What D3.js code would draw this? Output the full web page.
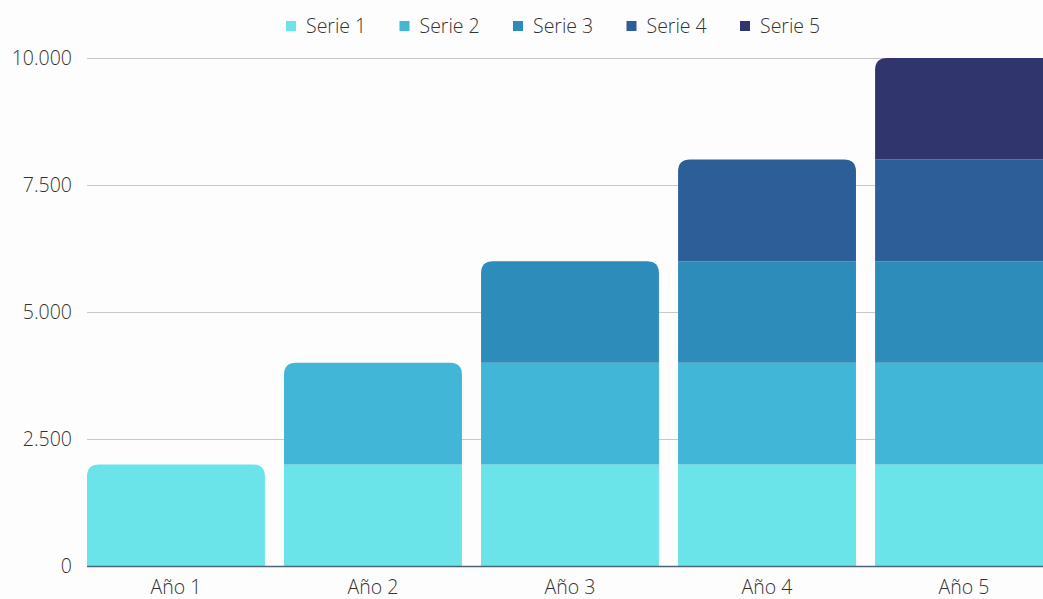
<!DOCTYPE html>
<html>
<head>
<meta charset="utf-8">
<script src="https://cdn.jsdelivr.net/npm/d3@7"></script>
<style>
  body { margin: 0; background: #fdfdfd; }
  svg { display: block; font-family: "Open Sans", sans-serif; }
</style>
</head>
<body>
<div id="chart"></div>
<script>
// data
const categories = ["Año 1", "Año 2", "Año 3", "Año 4", "Año 5"];
const seriesNames = ["Serie 1", "Serie 2", "Serie 3", "Serie 4", "Serie 5"];
const serie1 = [2000, 2000, 2000, 2000, 2000];
const serie2 = [0, 2000, 2000, 2000, 2000];
const serie3 = [0, 0, 2000, 2000, 2000];
const serie4 = [0, 0, 0, 2000, 2000];
const serie5 = [0, 0, 0, 0, 2000];
const yTicks = [0, 2500, 5000, 7500, 10000];
const colors = ["#6ae4e9", "#42b6d6", "#2d8cba", "#2e5e98", "#31356d"];

const width = 1043, height = 599;
const margin = {top: 58, left: 87, bottom: 33};

const allSeries = [serie1, serie2, serie3, serie4, serie5];
const rows = categories.map((c, i) => {
    let r = {cat: c};
    seriesNames.forEach((s, j) => r[s] = allSeries[j][i]);
    return r;
});

const stack = d3.stack().keys(seriesNames);
const stacked = stack(rows);

const svg = d3.select("#chart").append("svg")
    .attr("width", width)
    .attr("height", height);

// scales
const x = d3.scaleBand()
    .domain(categories)
    .range([margin.left, 1053])
    .paddingInner(0.097)
    .paddingOuter(0);

const y = d3.scaleLinear()
    .domain([0, 10000])
    .range([height - margin.bottom, margin.top]);

const fmt = d3.formatLocale({decimal: ",", thousands: ".", grouping: [3], currency: ["", "€"]}).format(",");

// gridlines
svg.append("g").selectAll("line")
    .data(yTicks.filter(d => d > 0))
    .join("line")
    .attr("x1", margin.left)
    .attr("x2", width)
    .attr("y1", d => y(d) + 0.5)
    .attr("y2", d => y(d) + 0.5)
    .attr("stroke", "#c8c8c8")
    .attr("stroke-width", 1);

// y labels
svg.append("g").selectAll("text")
    .data(yTicks)
    .join("text")
    .attr("x", 72)
    .attr("y", d => y(d))
    .attr("dy", "0.35em")
    .attr("text-anchor", "end")
    .attr("font-size", 19.5)
    .attr("font-weight", 300)
    .attr("fill", "#333")
    .text(d => fmt(d));

// top segment of each bar gets rounded corners
const topIndex = categories.map((c, i) => {
    let top = 0;
    allSeries.forEach((s, j) => { if (s[i] > 0) top = j; });
    return top;
});

function barPath(x0, y0, w, h, r) {
    return `M${x0},${y0 + h}V${y0 + r}Q${x0},${y0} ${x0 + r},${y0}H${x0 + w - r}Q${x0 + w},${y0} ${x0 + w},${y0 + r}V${y0 + h}Z`;
}

const layers = svg.append("g").selectAll("g")
    .data(stacked)
    .join("g")
    .attr("fill", (d, i) => colors[i]);

layers.selectAll("path")
    .data((d, j) => d.map((v, i) => ({v, i, j})).filter(e => e.v[1] > e.v[0]))
    .join("path")
    .attr("d", e => {
        const x0 = x(categories[e.i]);
        const y0 = y(e.v[1]);
        const h = y(e.v[0]) - y(e.v[1]);
        const r = topIndex[e.i] === e.j ? 12 : 0;
        return barPath(x0, y0, x.bandwidth(), h, r);
    });

// baseline
svg.append("line")
    .attr("x1", margin.left)
    .attr("x2", width)
    .attr("y1", y(0) + 0.5)
    .attr("y2", y(0) + 0.5)
    .attr("stroke", "#4d6378")
    .attr("stroke-width", 1.5);

// x labels
svg.append("g").selectAll("text")
    .data(categories)
    .join("text")
    .attr("x", d => x(d) + x.bandwidth() / 2)
    .attr("y", 587)
    .attr("dy", "0.35em")
    .attr("text-anchor", "middle")
    .attr("font-size", 19.5)
    .attr("font-weight", 300)
    .attr("fill", "#333")
    .text(d => d);

// legend
const legend = svg.append("g").selectAll("g")
    .data(seriesNames)
    .join("g")
    .attr("transform", (d, i) => `translate(${286 + i * 113.5}, 26)`);

legend.append("rect")
    .attr("x", 0)
    .attr("y", -5)
    .attr("width", 10)
    .attr("height", 10)
    .attr("fill", (d, i) => colors[i]);

legend.append("text")
    .attr("x", 20)
    .attr("dy", "0.35em")
    .attr("font-size", 19.5)
    .attr("font-weight", 300)
    .attr("fill", "#333")
    .text(d => d);
</script>
</body>
</html>
